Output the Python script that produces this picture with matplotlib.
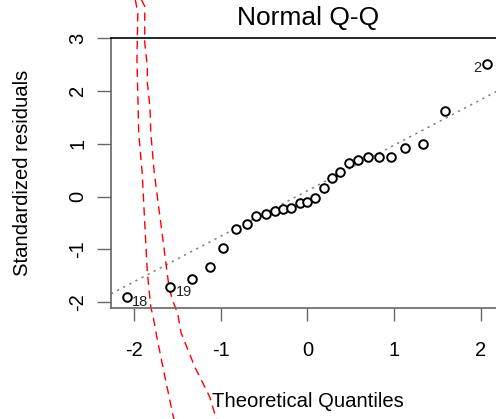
import matplotlib
matplotlib.use("Agg")
import matplotlib.pyplot as plt

plt.rcParams['font.family'] = ['Liberation Sans', 'DejaVu Sans']

# theoretical quantiles and sorted standardized residuals
theo_q = [-2.09, -1.59, -1.33, -1.13, -0.97, -0.83, -0.70, -0.59, -0.48,
          -0.38, -0.28, -0.19, -0.09, 0.00, 0.09, 0.19, 0.28, 0.38,
          0.48, 0.59, 0.70, 0.83, 0.97, 1.13, 1.33, 1.59, 2.08]
std_res = [-1.91, -1.72, -1.56, -1.34, -0.98, -0.61, -0.52, -0.37, -0.33,
           -0.27, -0.23, -0.21, -0.12, -0.11, -0.02, 0.16, 0.35, 0.47,
           0.63, 0.69, 0.75, 0.75, 0.75, 0.91, 1.00, 1.61, 2.51]

# labelled observations: (index in sorted order, label)
point_idx = [0, 1, 26]
point_lab = ["18", "19", "2"]

# qq reference line
line_intercept = 0.11
line_slope = 0.86

# red dashed envelope curves
env_left_x = [-1.99, -1.96, -1.97, -1.96, -1.95, -1.91, -1.88, -1.85, -1.81, -1.78, -1.75, -1.67, -1.55, -1.52]
env_left_y = [3.73, 3.48, 2.60, 1.90, 1.20, 0.45, -0.50, -1.44, -2.09, -2.30, -2.58, -3.23, -4.17, -4.30]
env_right_x = [-1.92, -1.88, -1.88, -1.85, -1.85, -1.82, -1.81, -1.77, -1.68, -1.63, -1.60, -1.56, -1.50, -1.46, -1.30, -1.13, -1.06, -1.03]
env_right_y = [3.73, 3.60, 2.91, 2.46, 2.15, 1.70, 1.20, 0.45, -0.69, -1.33, -1.71, -1.96, -2.21, -2.58, -3.23, -3.79, -4.17, -4.30]

fig = plt.figure(figsize=(4.96, 4.19), dpi=100)
ax = fig.add_axes([111 / 496, 111 / 419, 392 / 496, 270 / 419])

ax.set_xlim(-2.27, 2.26)
ax.set_ylim(-2.11, 3.0)

# reference line over the whole panel
xs = [-2.27, 2.26]
ax.plot(xs, [line_intercept + line_slope * v for v in xs],
        color='#808080', lw=1.1, linestyle=(0, (1.5, 3)))

ax.plot(env_left_x, env_left_y, color='red', lw=1, linestyle=(0, (6, 4)), clip_on=False)
ax.plot(env_right_x, env_right_y, color='red', lw=1, linestyle=(0, (6, 4)), clip_on=False)

ax.plot(theo_q, std_res, 'o', mfc='white', mec='black', ms=6.2, mew=1.4, zorder=3)

for i, lab in zip(point_idx, point_lab):
    if lab == "2":
        ax.annotate(lab, (theo_q[i], std_res[i]), xytext=(-4, -3), textcoords='offset points',
                    ha='right', va='center', fontsize=10.5, color='#222222')
    else:
        ax.annotate(lab, (theo_q[i], std_res[i]), xytext=(4, -3), textcoords='offset points',
                    ha='left', va='center', fontsize=10.5, color='#222222')

ax.set_xticks([-2, -1, 0, 1, 2])
ax.set_yticks([-2, -1, 0, 1, 2, 3])
ax.set_xticklabels(['-2', '-1', '0', '1', '2'])
ax.set_yticklabels(['-2', '-1', '0', '1', '2', '3'], rotation=90, va='center')
ax.tick_params(axis='both', length=10, width=1, color='#666666', labelsize=14.5)
ax.tick_params(axis='x', pad=14, length=9.5)
ax.tick_params(axis='y', pad=7)
ax.yaxis.get_major_ticks()[-1].tick1line.set_color('black')

for s in ['left', 'bottom']:
    ax.spines[s].set_color('#666666')
    ax.spines[s].set_linewidth(1.2)
ax.spines['right'].set_visible(False)
ax.spines['top'].set_color('black')
ax.spines['top'].set_linewidth(1.2)

ax.text(0.502, 1.074, 'Normal Q-Q', transform=ax.transAxes, ha='center', va='center', fontsize=19)
ax.text(0.502, -0.348, 'Theoretical Quantiles', transform=ax.transAxes, ha='center', va='center', fontsize=14.6)
ax.text(-0.225, 0.5, 'Standardized residuals', transform=ax.transAxes, ha='center', va='center',
        rotation=90, fontsize=14.6)

fig.savefig('out.png', dpi=100)
